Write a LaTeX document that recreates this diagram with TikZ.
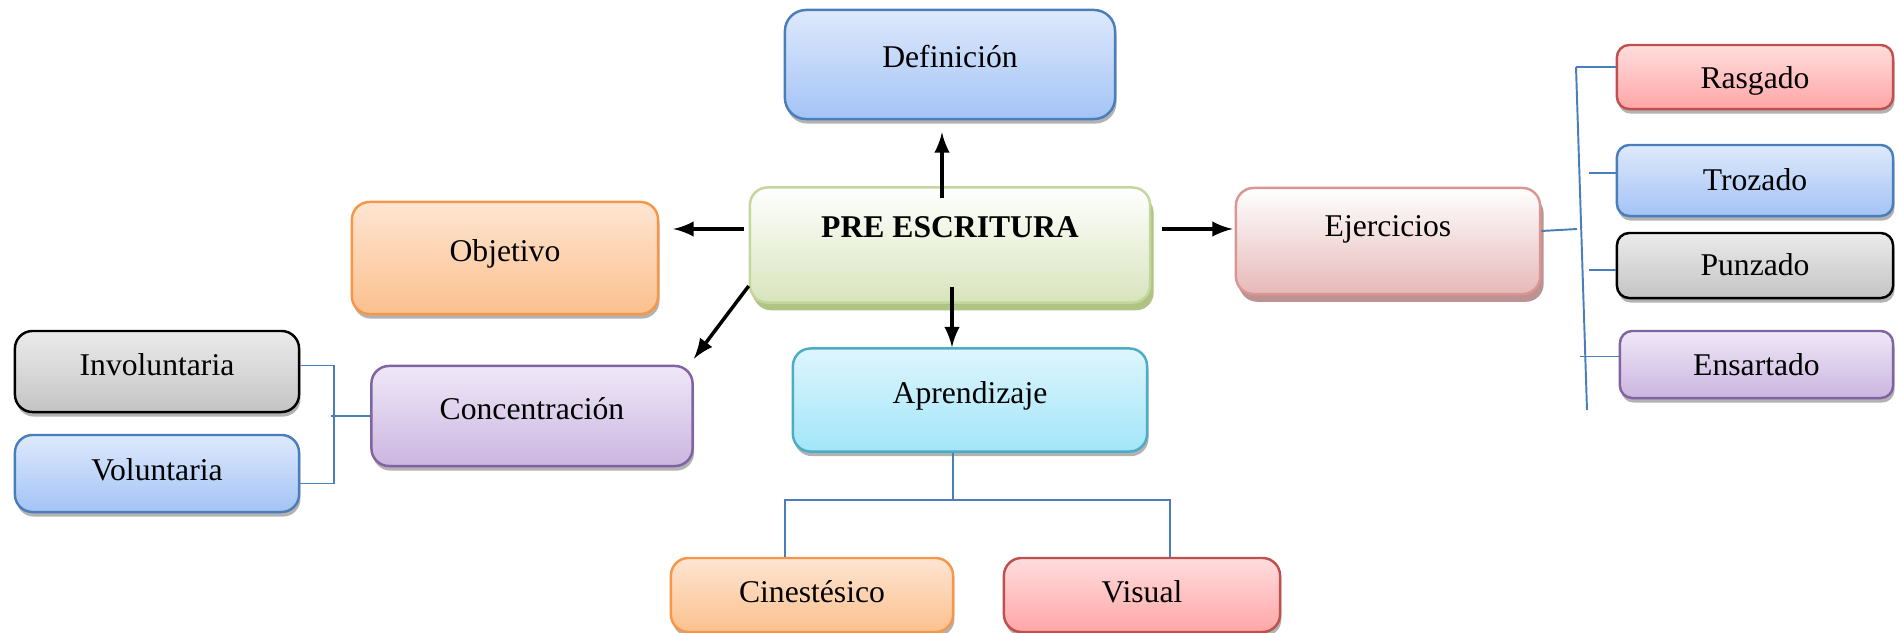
\documentclass[tikz,border=0pt]{standalone}
\usepackage{fontspec}
\setmainfont{Liberation Serif}
\usepackage{tikz}
\usetikzlibrary{shadows, calc, arrows}

\definecolor{bluetop}{HTML}{DEE9FC}
\definecolor{bluebot}{HTML}{A3C3F5}
\definecolor{blueline}{HTML}{4A7EBB}
\definecolor{greentop}{HTML}{FFFFFF}
\definecolor{greenbot}{HTML}{D8E4BC}
\definecolor{greenline}{HTML}{C3D69B}
\definecolor{greenshadow}{HTML}{AFC382}
\definecolor{orangetop}{HTML}{FEE5D2}
\definecolor{orangebot}{HTML}{FBC08E}
\definecolor{orangeline}{HTML}{F79646}
\definecolor{rosetop}{HTML}{FFFFFF}
\definecolor{rosebot}{HTML}{E6B9B8}
\definecolor{roseline}{HTML}{D99694}
\definecolor{roseshadow}{HTML}{BC9391}
\definecolor{redtop}{HTML}{FFDDDD}
\definecolor{redbot}{HTML}{FFA6A6}
\definecolor{redline}{HTML}{C0504D}
\definecolor{graytop}{HTML}{EBEBEB}
\definecolor{graybot}{HTML}{C4C4C4}
\definecolor{purpletop}{HTML}{EFE8F7}
\definecolor{purplebot}{HTML}{CBB5E0}
\definecolor{purpleline}{HTML}{8064A2}
\definecolor{cyantop}{HTML}{DEF6FD}
\definecolor{cyanbot}{HTML}{A2E5F9}
\definecolor{cyanline}{HTML}{4BACC6}
\definecolor{connblue}{HTML}{4A7EBB}

\begin{document}
\begin{tikzpicture}[x=0.01cm, y=-0.01cm,
font=\fontsize{9}{11}\selectfont,
box/.style={rectangle, rounded corners=5pt, inner sep=0pt, line width=0.7pt,
    text height=7pt, text depth=5pt,
    drop shadow={shadow xshift=0.4pt, shadow yshift=-1.3pt, opacity=0.3, fill=black}},
bluebox/.style={box, draw=blueline, top color=bluetop, bottom color=bluebot},
orangebox/.style={box, draw=orangeline, top color=orangetop, bottom color=orangebot},
redbox/.style={box, draw=redline, top color=redtop, bottom color=redbot},
graybox/.style={box, draw=black, top color=graytop, bottom color=graybot},
purplebox/.style={box, draw=purpleline, top color=purpletop, bottom color=purplebot},
cyanbox/.style={box, draw=cyanline, top color=cyantop, bottom color=cyanbot},
small/.style={minimum width=2.76cm, rounded corners=3.5pt, text depth=0.5pt},
arr/.style={-latex, line width=1pt},
conn/.style={draw=connblue, line width=0.55pt}]
\useasboundingbox (0,0) rectangle (1899,633);

\node[box, draw=greenline, top color=greentop, bottom color=greenbot,
    drop shadow={shadow xshift=1pt, shadow yshift=-2.2pt, opacity=1, fill=greenshadow},
    minimum width=4cm, minimum height=1.15cm, text depth=11pt] (pre) at (950,245) {\textbf{PRE ESCRITURA}};
\node[bluebox, minimum width=3.3cm, minimum height=1.09cm, rounded corners=6pt, text depth=5.5pt] (def) at (950,64.5) {Definición};
\node[orangebox, minimum width=3.06cm, minimum height=1.12cm] (obj) at (505,258) {Objetivo};
\node[box, draw=roseline, top color=rosetop, bottom color=rosebot,
    drop shadow={shadow xshift=1pt, shadow yshift=-2.2pt, opacity=1, fill=roseshadow},
    minimum width=3.04cm, minimum height=1.06cm, text depth=9.5pt] (eje) at (1388,241) {Ejercicios};
\node[purplebox, minimum width=3.21cm, minimum height=1cm] (con) at (532,416) {Concentración};
\node[cyanbox, minimum width=3.54cm, minimum height=1.03cm] (apr) at (970,400) {Aprendizaje};

\node[redbox, small, minimum height=0.64cm] (ras) at (1755,77) {Rasgado};
\node[bluebox, small, minimum height=0.71cm, text depth=1.5pt] (tro) at (1755,180.5) {Trozado};
\node[graybox, small, minimum height=0.65cm, text depth=1.5pt] (pun) at (1755,265.5) {Punzado};
\node[purplebox, small, minimum width=2.73cm, minimum height=0.67cm] (ens) at (1756.5,364.5) {Ensartado};

\node[graybox, minimum width=2.84cm, minimum height=0.81cm] (inv) at (157,371.5) {Involuntaria};
\node[bluebox, minimum width=2.84cm, minimum height=0.77cm, text depth=3pt] (vol) at (157,473.5) {Voluntaria};

\node[orangebox, minimum width=2.82cm, minimum height=0.74cm, text depth=3pt] (cin) at (812,595) {Cinestésico};
\node[redbox, minimum width=2.76cm, minimum height=0.74cm, text depth=3pt] (vis) at (1142,595) {Visual};

\draw[arr] ($(pre.north)+(-8,12)$) -- ($(def.south)+(-8,12)$);
\draw[arr] ($(pre.south)+(2,-17)$) -- ($(apr.north)+(-18,0)$);
\draw[arr] ($(pre.west)+(-5,-16)$) -- ($(obj.east)+(14,-29)$);
\draw[arr] ($(pre.east)+(11,-16)$) -- ($(eje.west)+(-2,-12)$);
\draw[arr] ($(pre.west)+(0,41)$) -- ($(con.north east)+(0,-6)$);

\coordinate (vtop) at (1576,67);
\coordinate (vbot) at (1587,410);
\draw[conn] (vtop) -- (vbot);
\draw[conn] ($(eje.east)+(0,-10)$) -- (1577,229);
\draw[conn] ($(ras.west)+(0,-10)$) -- (vtop);
\draw[conn] ($(tro.west)+(0,-7.5)$) -- ++(-27,0);
\draw[conn] ($(pun.west)+(0,4.5)$) -- ++(-27,0);
\draw[conn] ($(ens.west)+(0,-8)$) -- ++(-39,0);

\draw[conn] ($(inv.east)+(0,-6)$) -| ($(vol.east)+(34,10)$) -- ($(vol.east)+(0,10)$);
\draw[conn] (con.west) -- ++(-39,0);

\draw[conn] ($(apr.south)+(-17,0)$) -- ++(0,47) coordinate (fork);
\draw[conn] ($(cin.north)+(-27,0)$) |- (fork) -| ($(vis.north)+(28,0)$);
\end{tikzpicture}
\end{document}
